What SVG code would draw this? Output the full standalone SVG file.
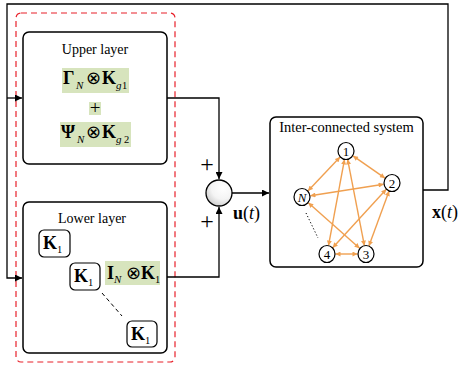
<svg xmlns="http://www.w3.org/2000/svg" width="460" height="366" viewBox="0 0 460 366" font-family="'Liberation Serif', 'Times New Roman', serif">
  <defs>
    <marker id="arr" viewBox="0 0 10 10" refX="10" refY="5" markerWidth="8" markerHeight="7" markerUnits="userSpaceOnUse" orient="auto">
      <path d="M0,0 L10,5 L0,10 Z" fill="#000"/>
    </marker>
    <marker id="oarr" viewBox="0 0 10 10" refX="10" refY="5" markerWidth="6" markerHeight="5" markerUnits="userSpaceOnUse" orient="auto-start-reverse">
      <path d="M0,0 L10,5 L0,10 Z" fill="#f0a050"/>
    </marker>
    <radialGradient id="sumFill" cx="0.65" cy="0.3" r="0.8">
      <stop offset="0" stop-color="#ffffff"/>
      <stop offset="0.55" stop-color="#f4f4f4"/>
      <stop offset="1" stop-color="#c8c8c8"/>
    </radialGradient>
  </defs>
  <style>
    .box { fill: #fff; stroke: #000; stroke-width: 1.5; }
    .wire { fill: none; stroke: #000; stroke-width: 1.3; }
    .edge { fill: none; stroke: #f0a050; stroke-width: 1.4; marker-start: url(#oarr); marker-end: url(#oarr); }
    .hl { fill: #d7e4bd; }
    text { font-family: "Liberation Serif", "Times New Roman", serif; fill: #000; }
    .title { font-size: 14px; }
    .math { font-size: 18px; font-weight: bold; }
    .sub { font-size: 11px; font-style: italic; font-weight: normal; }
    .subn { font-size: 10.5px; font-weight: normal; }
    .node { fill: #fff; stroke: #000; stroke-width: 1.2; }
    .nlab { font-size: 13px; text-anchor: middle; }
  </style>

  <!-- dashed controller boundary -->
  <rect id="controller" x="16" y="13" width="159" height="349" rx="5" fill="none" stroke="#e8202a" stroke-width="1.2" stroke-dasharray="6 4"/>

  <g id="connectors">
    <!-- state feedback from system output -->
    <polyline class="wire" points="423,190 448,190 448,4 7,4 7,278 22,278" marker-end="url(#arr)"/>
    <line class="wire" x1="7" y1="98" x2="22" y2="98" marker-end="url(#arr)"/>
    <!-- layer outputs into summing junction -->
    <polyline class="wire" points="167,98 219,98 219,179" marker-end="url(#arr)"/>
    <polyline class="wire" points="167,277 219,277 219,207" marker-end="url(#arr)"/>
    <!-- control input to system -->
    <line class="wire" x1="232" y1="193" x2="269" y2="193" marker-end="url(#arr)"/>
  </g>

  <g id="upper-layer">
    <rect class="box" x="23" y="32" width="144" height="132" rx="6"/>
    <text class="title" x="95" y="54" text-anchor="middle">Upper layer</text>
    <rect class="hl" x="62" y="68" width="67" height="25"/>
    <text class="math" y="84"><tspan x="63">Γ</tspan><tspan class="sub" x="76" y="89">N</tspan><tspan x="86" y="84" font-weight="normal">⊗</tspan><tspan x="102">K</tspan><tspan class="sub" x="116" y="89">g</tspan><tspan class="subn" x="122" y="89">1</tspan></text>
    <rect class="hl" x="89" y="102" width="12" height="13"/>
    <text x="95" y="114" font-size="19" text-anchor="middle">+</text>
    <rect class="hl" x="60" y="122" width="71" height="25"/>
    <text class="math" y="138"><tspan x="61">Ψ</tspan><tspan class="sub" x="77" y="143">N</tspan><tspan x="86" y="138" font-weight="normal">⊗</tspan><tspan x="102">K</tspan><tspan class="sub" x="116" y="143">g</tspan><tspan class="subn" x="124" y="143">2</tspan></text>
  </g>

  <g id="lower-layer">
    <rect class="box" x="23" y="202" width="144" height="151" rx="6"/>
    <text class="title" x="92" y="223" text-anchor="middle">Lower layer</text>
    <rect class="box" x="39" y="230" width="31" height="27" rx="5" style="stroke-width:1.2"/>
    <text class="math" y="249"><tspan x="43">K</tspan><tspan class="subn" x="57" y="253">1</tspan></text>
    <rect class="box" x="70" y="263" width="30" height="27" rx="5" style="stroke-width:1.2"/>
    <text class="math" y="282"><tspan x="74">K</tspan><tspan class="subn" x="88" y="286">1</tspan></text>
    <rect class="hl" x="105" y="261" width="55" height="24"/>
    <text class="math" y="279"><tspan x="107">I</tspan><tspan class="sub" x="114" y="283">N</tspan><tspan x="126" y="279" font-weight="normal">⊗</tspan><tspan x="141">K</tspan><tspan class="subn" x="155" y="283">1</tspan></text>
    <line x1="102" y1="293" x2="122" y2="316" stroke="#000" stroke-width="1" stroke-dasharray="4 3"/>
    <rect class="box" x="127" y="321" width="30" height="26" rx="5" style="stroke-width:1.2"/>
    <text class="math" y="340"><tspan x="131">K</tspan><tspan class="subn" x="145" y="344">1</tspan></text>
  </g>

  <g id="sum">
    <circle cx="219" cy="193" r="13" fill="url(#sumFill)" stroke="#000" stroke-width="1.3"/>
    <text x="207" y="172" font-size="24" text-anchor="middle">+</text>
    <text x="207" y="229" font-size="24" text-anchor="middle">+</text>
    <text x="233" y="219" font-size="18"><tspan font-weight="bold">u</tspan>(<tspan font-style="italic">t</tspan>)</text>
  </g>

  <g id="system">
    <rect class="box" x="270" y="117" width="153" height="150" rx="6"/>
    <text x="346.5" y="132" font-size="14.5" text-anchor="middle">Inter-connected system</text>
    <g id="graph-edges">
      <line class="edge" x1="353.0" y1="155.9" x2="385.0" y2="178.1"/>
      <line class="edge" x1="340.1" y1="157.1" x2="307.9" y2="190.9"/>
      <line class="edge" x1="344.5" y1="159.4" x2="328.5" y2="245.6"/>
      <line class="edge" x1="347.6" y1="159.3" x2="364.4" y2="245.7"/>
      <line class="edge" x1="383.6" y1="184.3" x2="310.4" y2="195.7"/>
      <line class="edge" x1="386.3" y1="189.3" x2="332.7" y2="247.7"/>
      <line class="edge" x1="389.1" y1="191.0" x2="368.9" y2="246.0"/>
      <line class="edge" x1="308.3" y1="202.7" x2="359.6" y2="248.3"/>
      <line class="edge" x1="335.5" y1="254" x2="357.5" y2="254"/>
      <line x1="306" y1="213" x2="318" y2="238" stroke="#000" stroke-width="1" stroke-dasharray="1.2 2.2"/>
    </g>
    <g id="n1"><ellipse class="node" cx="346" cy="151" rx="8" ry="8.5"/><text class="nlab" x="346" y="155.5">1</text></g>
    <g id="n2"><ellipse class="node" cx="392" cy="183" rx="8" ry="8.5"/><text class="nlab" x="392" y="187.5">2</text></g>
    <g id="nN"><ellipse class="node" cx="302" cy="197" rx="8" ry="8.5"/><text class="nlab" x="302" y="201.5" font-style="italic">N</text></g>
    <g id="n4"><ellipse class="node" cx="327" cy="254" rx="8" ry="8.5"/><text class="nlab" x="327" y="258.5">4</text></g>
    <g id="n3"><ellipse class="node" cx="366" cy="254" rx="8" ry="8.5"/><text class="nlab" x="366" y="258.5">3</text></g>
    <text x="432" y="218" font-size="18"><tspan font-weight="bold">x</tspan>(<tspan font-style="italic">t</tspan>)</text>
  </g>
</svg>
